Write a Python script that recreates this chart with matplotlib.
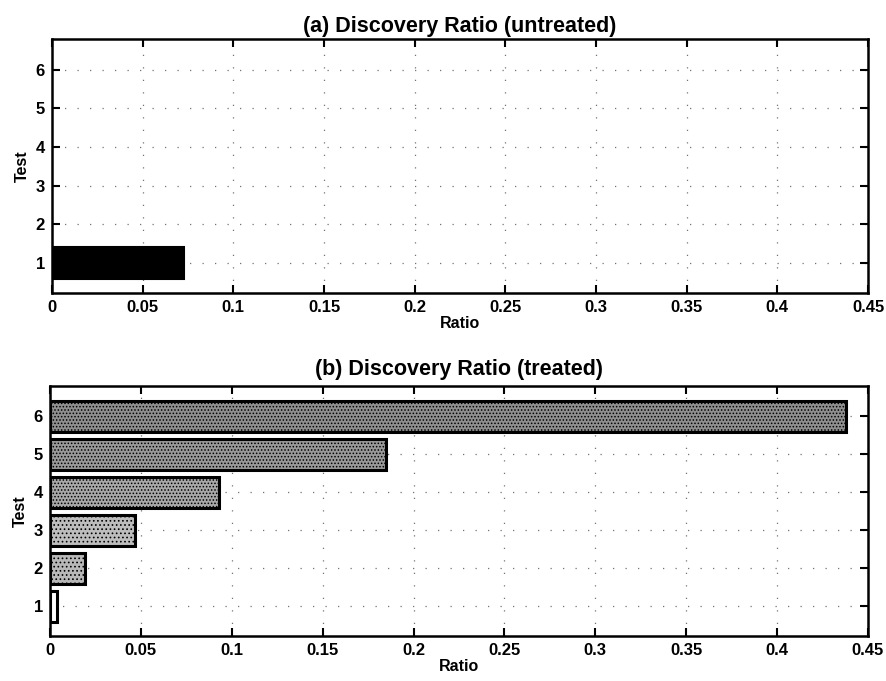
import matplotlib.pyplot as plt

plt.rcParams['font.family'] = ['Liberation Sans', 'DejaVu Sans']
plt.rcParams['hatch.linewidth'] = 0.7

tests = [1, 2, 3, 4, 5, 6]
untreated = [0.0728, 0, 0, 0, 0, 0]
treated = [0.004, 0.019, 0.047, 0.093, 0.185, 0.438]
treated_gray = ['1.0', '0.72', '0.74', '0.66', '0.6', '0.56']
treated_hatch = [None, '....', '....', '.....', '.....', '.....']
xticks = [0, 0.05, 0.1, 0.15, 0.2, 0.25, 0.3, 0.35, 0.4, 0.45]
xticklabels = ['0', '0.05', '0.1', '0.15', '0.2', '0.25', '0.3', '0.35', '0.4', '0.45']

fig = plt.figure(figsize=(8.86, 6.81), dpi=100)
ax1 = fig.add_axes([0.0587, 0.5698, 0.921, 0.373])
ax2 = fig.add_axes([0.0565, 0.0661, 0.923, 0.367])

# (a) untreated: a single solid black bar
ax1.barh(tests[:1], untreated[:1], height=0.84, color='black', edgecolor='black', linewidth=1.5)

# (b) treated: gray speckled bars with thick outlines
for t, v, g, h in zip(tests, treated, treated_gray, treated_hatch):
    ax2.barh(t, v, height=0.8, color=g, edgecolor='black', linewidth=2.2, hatch=h)

for ax, title, tpad in [(ax1, '(a) Discovery Ratio (untreated)', 5),
                        (ax2, '(b) Discovery Ratio (treated)', 8)]:
    ax.set_xlim(0, 0.45)
    ax.set_ylim(0.22, 6.8)
    ax.set_xticks(xticks)
    ax.set_xticklabels(xticklabels)
    ax.set_yticks(tests)
    ax.grid(True, color='0.45', linestyle=(0, (1, 9)), linewidth=0.9)
    ax.set_axisbelow(True)
    ax.tick_params(direction='in', length=6, width=1.5, top=True, right=True, labelsize=12, pad=5)
    for lab in ax.get_xticklabels() + ax.get_yticklabels():
        lab.set_fontweight('bold')
    for sp in ax.spines.values():
        sp.set_linewidth(1.8)
    ax.set_title(title, fontsize=15.5, fontweight='bold', pad=tpad)
    ax.set_xlabel('Ratio', fontsize=11.5, fontweight='bold', labelpad=1)
    ax.set_ylabel('Test', fontsize=11.5, fontweight='bold', labelpad=4)

fig.savefig('out.png', dpi=100)
